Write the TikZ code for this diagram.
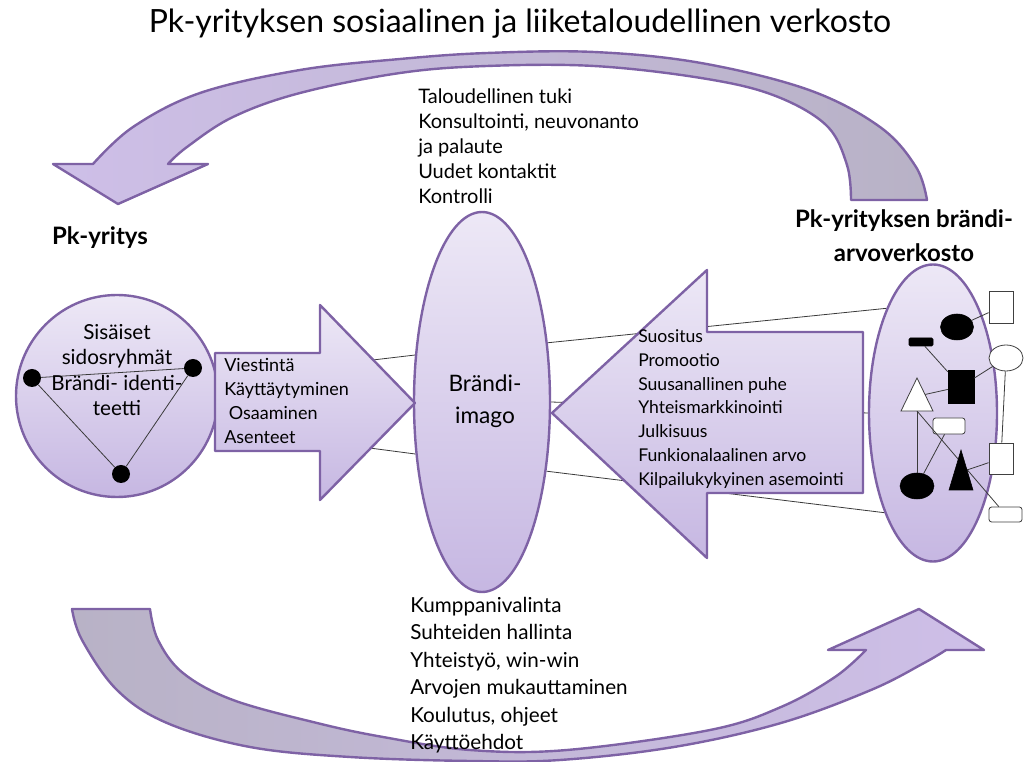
\documentclass[tikz,border=0pt]{standalone}
\usepackage{fontspec}
\setmainfont{Lato}
\usetikzlibrary{shapes.geometric,backgrounds}

\definecolor{edge}{HTML}{7E62A5}
\definecolor{fillTop}{HTML}{EDE8F6}
\definecolor{fillBot}{HTML}{C6B7E2}
\definecolor{bandLight}{HTML}{CEBFE8}
\definecolor{bandGray}{HTML}{B8B2C6}
\definecolor{linkgray}{HTML}{3A3A3A}

\tikzset{
  panel/.style={draw=edge, line width=1.8pt, line join=round, top color=fillTop, bottom color=fillBot},
  band/.style={draw=edge, line width=1.8pt, line join=round},
  link/.style={draw=linkgray, line width=0.6pt},
  dot/.style={circle, fill=black, inner sep=0pt, minimum size=13.5pt},
  blk/.style={fill=black, draw=black, inner sep=0pt, line width=0.4pt},
  wht/.style={fill=white, draw=black!75, inner sep=0pt, line width=0.6pt},
  txt/.style={inner sep=0pt, text=black}
}

\begin{document}
\begin{tikzpicture}[x=0.75pt, y=-0.75pt]
\useasboundingbox (0,0) rectangle (1029,762);

% title
\node[txt, font=\fontsize{24}{28}\selectfont] (title) at (520,24)
  {Pk-yrityksen sosiaalinen ja liiketaloudellinen verkosto};

% upper curved band, pointing down to the left
\draw[band, left color=bandLight, right color=bandGray]
  plot[smooth, tension=0.6] coordinates {(93,164) (133,127) (200,93) (300,70) (400,59) (487,53) (594,52) (701,63) (809,90) (880,127) (916,167) (927,200)}
  -- (851,200)
  -- plot[smooth, tension=0.6] coordinates {(851,200) (847,165) (826,125) (773,95) (701,78) (594,66) (487,66) (400,73) (300,93) (233,117) (187,147) (168,164)}
  -- (208,164) -- (118,204) -- (53,164) -- cycle;

% lower curved band, pointing up to the right
\draw[band, left color=bandGray, right color=bandLight]
  plot[smooth, tension=0.6] coordinates {(72,609) (82,640) (117,690) (167,723) (250,747) (350,757) (470,761) (560,760) (674,747) (781,723) (871,690) (924,663) (946,650)}
  -- (984,650) -- (919,609) -- (828,650) -- (866,650)
  -- plot[smooth, tension=0.6] coordinates {(866,650) (835,677) (781,707) (710,730) (567,750) (470,750) (383,737) (317,723) (233,700) (183,673) (158,640) (150,609)}
  -- cycle;

% labels of the two bands
\node[txt, anchor=west, align=left, font=\fontsize{15}{18.8}\selectfont] (support) at (418,146)
  {Taloudellinen tuki\\Konsultointi, neuvonanto\\ja palaute\\Uudet kontaktit\\Kontrolli};
\node[txt, anchor=west, align=left, font=\fontsize{15.5}{20.6}\selectfont] (partner) at (410,675)
  {Kumppanivalinta\\Suhteiden hallinta\\Yhteistyö, win-win\\Arvojen mukauttaminen\\Koulutus, ohjeet\\Käyttöehdot};

% main nodes
\node[panel, circle, minimum size=151.5pt, inner sep=0pt] (circ) at (117,396) {};
\node[panel, ellipse, minimum width=102pt, minimum height=285pt, inner sep=0pt] (cimg) at (482,402) {};
\node[panel, ellipse, minimum width=96pt, minimum height=222.75pt, inner sep=0pt] (rell) at (933,413) {};

% connectors between the main nodes, kept behind everything
\begin{scope}[on background layer]
\draw[link] (circ.10) -- (cimg.145);
\draw[link] (circ.-4) -- (cimg.west);
\draw[link] (circ.-18) -- (cimg.218);
\draw[link] (cimg.42) -- (rell.114);
\draw[link] (cimg.east) -- (rell.west);
\draw[link] (cimg.-47) -- (rell.244);
\end{scope}

% block arrow pointing right
\draw[panel] (215,353) -- (320,353) -- (320,305) -- (415,403) -- (320,500) -- (320,451) -- (215,451) -- cycle;
% block arrow pointing left
\draw[panel] (863,332) -- (707,332) -- (707,270) -- (552,413) -- (707,558) -- (707,493) -- (863,493) -- cycle;

% triangle of stakeholders inside the circle
\node[dot] (dl) at (32,378) {};
\node[dot] (dr) at (193,368) {};
\node[dot] (db) at (121,474) {};
\draw[link] (dl) -- (dr);
\draw[link] (dl) -- (db);
\draw[link] (db) -- (dr);

% value network inside the right ellipse
\node[blk, ellipse, minimum width=24.75pt, minimum height=19.5pt] (e1) at (957,327) {};
\node[wht, rectangle, minimum width=18pt, minimum height=24pt] (r1) at (1001,307) {};
\node[blk, rectangle, rounded corners=1pt, minimum width=18pt, minimum height=6pt] (s1) at (921,342) {};
\node[wht, ellipse, minimum width=25.5pt, minimum height=19.5pt] (c1) at (1006,358) {};
\node[blk, rectangle, minimum width=19.5pt, minimum height=24.75pt] (r2) at (961,386.5) {};
\node[wht, rectangle, rounded corners=2pt, minimum width=24pt, minimum height=12pt] (rr1) at (949,426) {};
\node[blk, ellipse, minimum width=25.5pt, minimum height=19.5pt] (e2) at (917,486) {};
\node[wht, rectangle, minimum width=18pt, minimum height=23.25pt] (r3) at (1001,458.5) {};
\node[wht, rectangle, rounded corners=2pt, minimum width=24.75pt, minimum height=11.25pt] (rr2) at (1005.5,514.5) {};
\coordinate (t1a) at (917,378);
\coordinate (t1r) at (925,394.5);
\coordinate (t1b) at (917,411);
\coordinate (t2a) at (961,450);
\coordinate (t2r) at (967,470);

\draw[link] (e1) -- (r1);
\draw[link] (s1) -- (r2);
\draw[link] (r2) -- (c1);
\draw[link] (t1r) -- (r2);
\draw[link] (t1b) -- (e2);
\draw[link] (t1b) -- (rr2);
\draw[link] (rr1) -- (e2);
\draw[link] (t2r) -- (r3);
\draw[link] (c1) -- (r3);

\draw[wht] (t1a) -- (933,411) -- (901,411) -- cycle;
\draw[blk] (t2a) -- (973,490) -- (949,490) -- cycle;

% texts
\node[txt, align=center, font=\fontsize{15.5}{19.2}\selectfont] (circtext) at (117,370)
  {Sisäiset\\sidosryhmät\\Brändi- identi-\\teetti};
\node[txt, anchor=west, align=left, font=\fontsize{13.5}{18}\selectfont] (inside) at (224,401)
  {Viestintä\\Käyttäytyminen\\\ Osaaminen\\Asenteet};
\node[txt, anchor=west, align=left, font=\fontsize{13.2}{17.8}\selectfont] (outside) at (638,409)
  {Suositus\\Promootio\\Suusanallinen puhe\\Yhteismarkkinointi\\Julkisuus\\Funkionalaalinen arvo\\Kilpailukykyinen asemointi};
\node[txt, align=center, font=\fontsize{17}{24}\selectfont] (imgtext) at (485,401)
  {Brändi-\\imago};
\node[txt, font=\bfseries\fontsize{18}{22}\selectfont] (sme) at (100,238) {Pk-yritys};
\node[txt, align=center, font=\bfseries\fontsize{18}{25.5}\selectfont] (net) at (904,236)
  {Pk-yrityksen brändi-\\arvoverkosto};
\end{tikzpicture}
\end{document}
